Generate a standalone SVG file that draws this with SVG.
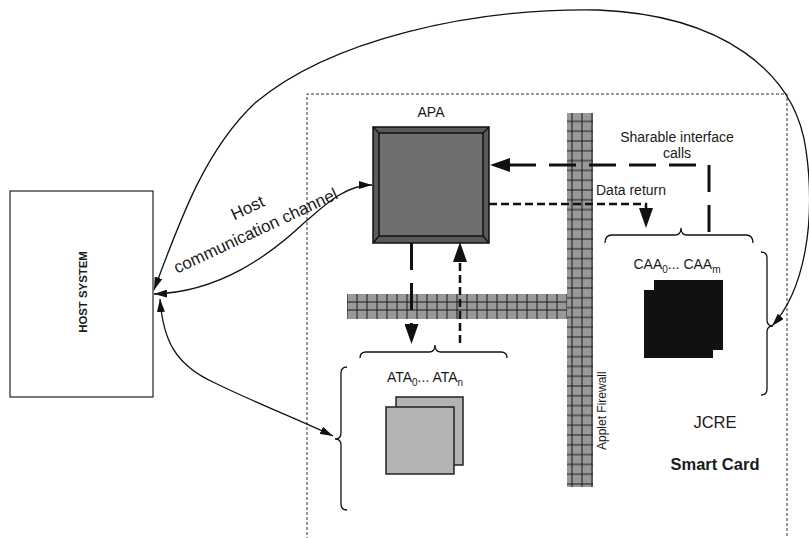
<svg xmlns="http://www.w3.org/2000/svg" width="809" height="538" viewBox="0 0 809 538">
<style>
text{font-family:"Liberation Sans",Arial,sans-serif;fill:#1a1a1a}
.lbl{font-size:14px}
.big{font-size:16.5px}
.curve{fill:none;stroke:#111;stroke-width:1.3}
.brace{fill:none;stroke:#111;stroke-width:1.3}
.longd{fill:none;stroke:#111;stroke-width:3;stroke-dasharray:27 13}
.shortd{fill:none;stroke:#111;stroke-width:2.5;stroke-dasharray:8 4}
</style>
<defs>
<marker id="ahS" viewBox="0 0 13 8" markerWidth="13" markerHeight="8" refX="13" refY="4" orient="auto-start-reverse" markerUnits="userSpaceOnUse"><path d="M0,0 L13,4 L0,8 z" fill="#111"/></marker>
<marker id="ahL" viewBox="0 0 20 14" markerWidth="20" markerHeight="14" refX="0" refY="7" orient="auto" markerUnits="userSpaceOnUse"><path d="M0,0 L20,7 L0,14 z" fill="#111"/></marker>
<pattern id="gridV" patternUnits="userSpaceOnUse" x="567" y="381.1" width="10" height="9.8"><path d="M5,0 V9.8 M0,4.9 H10" stroke="#1a1a1a" stroke-width="1"/></pattern>
<pattern id="gridH" patternUnits="userSpaceOnUse" x="352" y="0" width="10" height="25"><path d="M5,0 V25" stroke="#1a1a1a" stroke-width="1"/></pattern>
</defs>
<rect width="809" height="538" fill="#fff"/>

<g id="smart-card">
<path d="M307,540 V94 H787 V540" fill="none" stroke="#333" stroke-width="1" stroke-dasharray="3 2"/>
<text class="big" x="715" y="428" text-anchor="middle">JCRE</text>
<text class="big" x="715" y="470" text-anchor="middle" font-weight="bold">Smart Card</text>
</g>

<g id="host-system">
<rect x="10" y="191" width="143" height="206" fill="#fff" stroke="#333" stroke-width="1.3"/>
<text x="87" y="292" font-size="11.4" font-weight="bold" text-anchor="middle" transform="rotate(-90 87 292)">HOST SYSTEM</text>
</g>

<g id="firewall">
<rect x="347" y="294" width="220" height="25" fill="#999"/>
<rect x="347" y="294" width="220" height="25" fill="url(#gridH)"/>
<path d="M347,302 H567 M347,310 H567" stroke="#1a1a1a" stroke-width="1"/>
<rect x="567" y="113" width="26" height="374" fill="#999"/>
<rect x="567" y="113" width="26" height="374" fill="url(#gridV)"/>
<text x="606" y="450" font-size="12" transform="rotate(-90 606 450)">Applet Firewall</text>
</g>

<g id="apa">
<text class="lbl" x="431" y="117" text-anchor="middle">APA</text>
<rect x="373" y="127" width="116" height="116" fill="#5a5a5a" stroke="#111" stroke-width="1.5"/>
<rect x="379" y="133" width="104" height="103" fill="#6f6f6f" stroke="#111" stroke-width="1.5"/>
<path d="M373,127 L379,133 M489,127 L483,133 M373,243 L379,236 M489,243 L483,236" stroke="#111" stroke-width="1.3"/>
</g>

<g id="ata">
<text class="lbl" x="425" y="382" text-anchor="middle">ATA<tspan font-size="10" dy="4">0</tspan><tspan dy="-4">... ATA</tspan><tspan font-size="10" dy="4">n</tspan></text>
<rect x="396" y="397" width="67" height="68" fill="#b3b3b3" stroke="#222" stroke-width="1.5"/>
<rect x="386" y="407" width="68" height="67" fill="#b3b3b3" stroke="#222" stroke-width="1.5"/>
<path class="brace" d="M360,358 Q360,352 366,352 H429 Q435,352 435,345 Q435,352 441,352 H501 Q507,352 507,358"/>
<path class="brace" d="M347,367 Q341,367 341,373 V433 Q341,439 335,439 Q341,439 341,445 V504 Q341,510 347,510"/>
</g>

<g id="caa">
<text class="lbl" x="677" y="269" text-anchor="middle">CAA<tspan font-size="10" dy="4">0</tspan><tspan dy="-4">... CAA</tspan><tspan font-size="10" dy="4">m</tspan></text>
<rect x="654" y="280" width="69" height="70" fill="#111"/>
<rect x="644" y="290" width="69" height="68" fill="#111"/>
<path class="brace" d="M605,243 Q605,235 612,235 H675 Q681,235 681,228 Q681,235 687,235 H746 Q753,235 753,243"/>
<path class="brace" d="M761,252 Q767,252 767,258 V320 Q767,326 773,326 Q767,326 767,332 V389 Q767,395 761,395"/>
</g>

<g id="connectors">
<path class="curve" d="M154,290 C180,220 205,150 255,103 C330,40 470,8 598,10 C720,15 795,70 806,150 C816,220 805,290 772,326" marker-start="url(#ahS)" marker-end="url(#ahS)"/>
<path class="curve" d="M154,294 C220,292 270,255 305,222 C325,205 345,185 372,185" marker-start="url(#ahS)" marker-end="url(#ahS)"/>
<path class="curve" d="M160,299 C163,340 175,365 215,383 C260,405 300,420 333,436" marker-start="url(#ahS)" marker-end="url(#ahS)"/>
<text font-size="17" x="250" y="213" text-anchor="middle" transform="rotate(-25 250 213)">Host</text>
<text font-size="17" x="258" y="236" text-anchor="middle" transform="rotate(-25 258 236)">communication channel</text>
<path class="longd" d="M709,232 V165 H510" marker-end="url(#ahL)"/>
<text class="lbl" x="677" y="142" text-anchor="middle">Sharable interface</text>
<text class="lbl" x="677" y="158" text-anchor="middle">calls</text>
<path class="shortd" d="M489,204 H646 V208" marker-end="url(#ahL)"/>
<text class="lbl" x="596" y="195">Data return</text>
<path class="longd" d="M411.5,243 V324" marker-end="url(#ahL)"/>
<path class="shortd" d="M460,343 V262" marker-end="url(#ahL)"/>
</g>
</svg>
